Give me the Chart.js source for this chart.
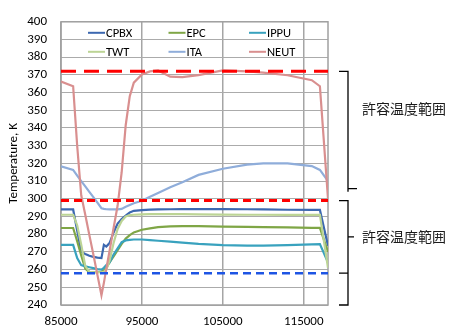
<!DOCTYPE html>
<html>
<head>
<meta charset="utf-8">
<script src="https://cdn.jsdelivr.net/npm/chart.js@4.4.1/dist/chart.umd.min.js"></script>
<style>
  body { margin: 0; background: #fff; }
  #wrap { width: 449px; height: 328px; }
</style>
</head>
<body>
<div id="wrap"><canvas id="tempChart" width="449" height="328"></canvas></div>
<script>
// time axis (s)
const times = [85000, 86500, 87000, 87500, 88000, 88500, 89000, 89500, 90000, 90300, 90600,
  91000, 91500, 92000, 92500, 93000, 93500, 94000, 95000, 96000, 97000, 98500, 100000,
  102000, 105000, 108000, 110000, 113000, 116000, 117000, 118000];

const cpbx = [294, 294, 282, 270, 268.8, 267.8, 267.2, 266.8, 266.5, 274, 273, 275, 281, 286,
  288.5, 290.5, 292.3, 293.2, 293.6, 293.9, 294, 294.1, 294.2, 294.2, 294.2, 294.1, 294, 293.8,
  293.7, 293.7, 273.5];
const epc = [283.5, 283.5, 276, 268, 260.5, 258.5, 258.5, 258.5, 258.8, 259.5, 261, 264, 267.5,
  271, 274.5, 277.5, 279.5, 281, 282.5, 283.3, 284, 284.4, 284.6, 284.6, 284.3, 284.1, 284,
  283.8, 283.6, 283.6, 270];
const ippu = [274, 274, 266.5, 262.5, 261.8, 261.3, 260.8, 260.3, 260, 261, 262.5, 264, 268.5,
  272, 275.5, 276.5, 276.8, 277, 277, 276.7, 276.3, 275.8, 275.2, 274.5, 273.8, 273.5, 273.5,
  273.8, 274.2, 274.4, 264];
const twt = [291, 291, 285, 274, 262, 258.8, 258.5, 258.5, 258.5, 258.8, 260, 265, 275, 283,
  287.5, 290, 290.8, 291, 291.2, 291.3, 291.3, 291.3, 291.3, 291.2, 291.1, 291, 291, 290.9,
  290.9, 290.9, 261];
const ita = [318.3, 316.3, 313.1, 310, 307, 303.9, 300.9, 297.8, 294.7, 294.3, 294.1, 294, 294,
  294, 294.3, 295.5, 296.5, 297.5, 298.9, 301.2, 303.3, 306.5, 309.3, 313.5, 317, 319.3, 320,
  320, 318.5, 316.3, 310];
const neut = [366.3, 363.6, 330, 302, 291, 279.6, 268.5, 257, 245.5, 252.5, 260.4, 270.5, 283.5,
  296.2, 315, 341.7, 358, 365.6, 370.3, 372, 372.5, 369, 368.8, 369.9, 372.5, 372, 371.3, 369.8,
  367, 363.6, 300];

const seriesNames = ['CPBX', 'EPC', 'IPPU', 'TWT', 'ITA', 'NEUT'];
const seriesValues = [cpbx, epc, ippu, twt, ita, neut];
const seriesColors = ['#3C68B0', '#7FA646', '#39A2BE', '#BCD495', '#8FADDA', '#D98F8F'];

// allowable limits (K)
const upperLimits = [372, 299];
const lowerLimit = 258;
const xTicks = [85000, 95000, 105000, 115000];
const rangeLabel = '許容温度範囲';

const baseFont = { family: 'Calibri, Carlito, "Liberation Sans", sans-serif', size: 13 };

const toPoints = vals => vals.map((v, i) => ({ x: times[i], y: v }));
const flatLine = v => [{ x: times[0], y: v }, { x: times[times.length - 1], y: v }];

const datasets = seriesNames.map((name, i) => ({
  label: name,
  data: toPoints(seriesValues[i]),
  borderColor: seriesColors[i],
  borderWidth: 2.2,
  pointRadius: 0,
  tension: 0,
  order: 10 - i
}));
datasets.push({ label: 'lim1', data: flatLine(upperLimits[0]), borderColor: '#FF0000',
  borderWidth: 3, borderDash: [15, 8], pointRadius: 0, order: 1 });
datasets.push({ label: 'lim2', data: flatLine(upperLimits[1]), borderColor: '#FF0000',
  borderWidth: 3, borderDash: [8, 5], pointRadius: 0, order: 1 });
datasets.push({ label: 'lim3', data: flatLine(lowerLimit), borderColor: '#1E55E4',
  borderWidth: 2.5, borderDash: [8, 5], pointRadius: 0, order: 1 });

// frame around the plot, legend in the plot, brackets on the right
const extras = {
  id: 'extras',
  beforeDatasetsDraw(chart) {
    const { ctx, chartArea: a } = chart;
    ctx.save();
    ctx.strokeStyle = '#A0A0A0';
    ctx.lineWidth = 1.5;
    ctx.strokeRect(a.left, a.top, a.right - a.left, a.bottom - a.top);
    ctx.restore();
  },
  afterDatasetsDraw(chart) {
    const { ctx, chartArea: a } = chart;
    const y = chart.scales.y;
    ctx.save();
    // legend
    ctx.font = '12.5px ' + baseFont.family;
    ctx.textBaseline = 'middle';
    ctx.fillStyle = '#000';
    seriesNames.forEach((name, i) => {
      const col = i % 3, row = Math.floor(i / 3);
      const lx = a.left + 27 + col * 80.5;
      const ly = a.top + 11 + row * 19;
      ctx.strokeStyle = seriesColors[i];
      ctx.lineWidth = 2;
      ctx.beginPath();
      ctx.moveTo(lx, ly);
      ctx.lineTo(lx + 17, ly);
      ctx.stroke();
      ctx.fillText(name, lx + 18, ly + 1);
    });
    // brackets
    ctx.strokeStyle = '#000';
    ctx.lineWidth = 1.3;
    const bx = a.right + 20;
    const t1 = y.getPixelForValue(upperLimits[0]), b1 = y.getPixelForValue(305.7);
    ctx.beginPath();
    ctx.moveTo(bx - 9, t1); ctx.lineTo(bx, t1); ctx.lineTo(bx, b1 + 3);
    ctx.moveTo(bx, b1); ctx.lineTo(bx + 9, b1);
    ctx.stroke();
    const t2 = y.getPixelForValue(upperLimits[1]), b2 = y.getPixelForValue(240);
    const m2 = y.getPixelForValue(278.5), h2 = y.getPixelForValue(lowerLimit);
    ctx.beginPath();
    ctx.moveTo(bx - 9, t2); ctx.lineTo(bx, t2); ctx.lineTo(bx, b2); ctx.lineTo(bx - 9, b2);
    ctx.moveTo(bx, m2); ctx.lineTo(bx + 6, m2);
    ctx.moveTo(bx - 9, h2); ctx.lineTo(bx, h2);
    ctx.stroke();
    ctx.font = '14px "Noto Sans CJK JP", sans-serif';
    ctx.fillStyle = '#1A1A1A';
    ctx.fillText(rangeLabel, a.right + 34, y.getPixelForValue(351));
    ctx.fillText(rangeLabel, a.right + 34, y.getPixelForValue(278.6));
    ctx.restore();
  }
};

new Chart(document.getElementById('tempChart'), {
  type: 'line',
  data: { datasets: datasets },
  options: {
    responsive: false,
    animation: false,
    devicePixelRatio: 1,
    layout: { padding: { top: 15, right: 121, left: 0, bottom: 0 } },
    plugins: { legend: { display: false }, tooltip: { enabled: false } },
    scales: {
      x: {
        type: 'linear',
        min: times[0],
        max: times[times.length - 1],
        afterBuildTicks: s => { s.ticks = xTicks.map(v => ({ value: v })); },
        afterFit: s => { s.height = 23; },
        grid: { color: '#A5A5A5', lineWidth: 1.5, drawTicks: false },
        border: { display: false },
        ticks: { padding: 9, maxRotation: 0, autoSkip: false, font: baseFont, color: '#000',
          callback: v => String(v) }
      },
      y: {
        min: 240,
        max: 400,
        afterFit: s => { s.width = 61; },
        grid: { color: '#ABABAB', lineWidth: 1, drawTicks: false },
        border: { display: false },
        ticks: { stepSize: 10, autoSkip: false, padding: 14, font: baseFont, color: '#000' },
        title: { display: true, text: 'Temperature, K', font: baseFont, color: '#000',
          padding: { top: 6, bottom: 0 } }
      }
    }
  },
  plugins: [extras]
});
</script>
</body>
</html>
